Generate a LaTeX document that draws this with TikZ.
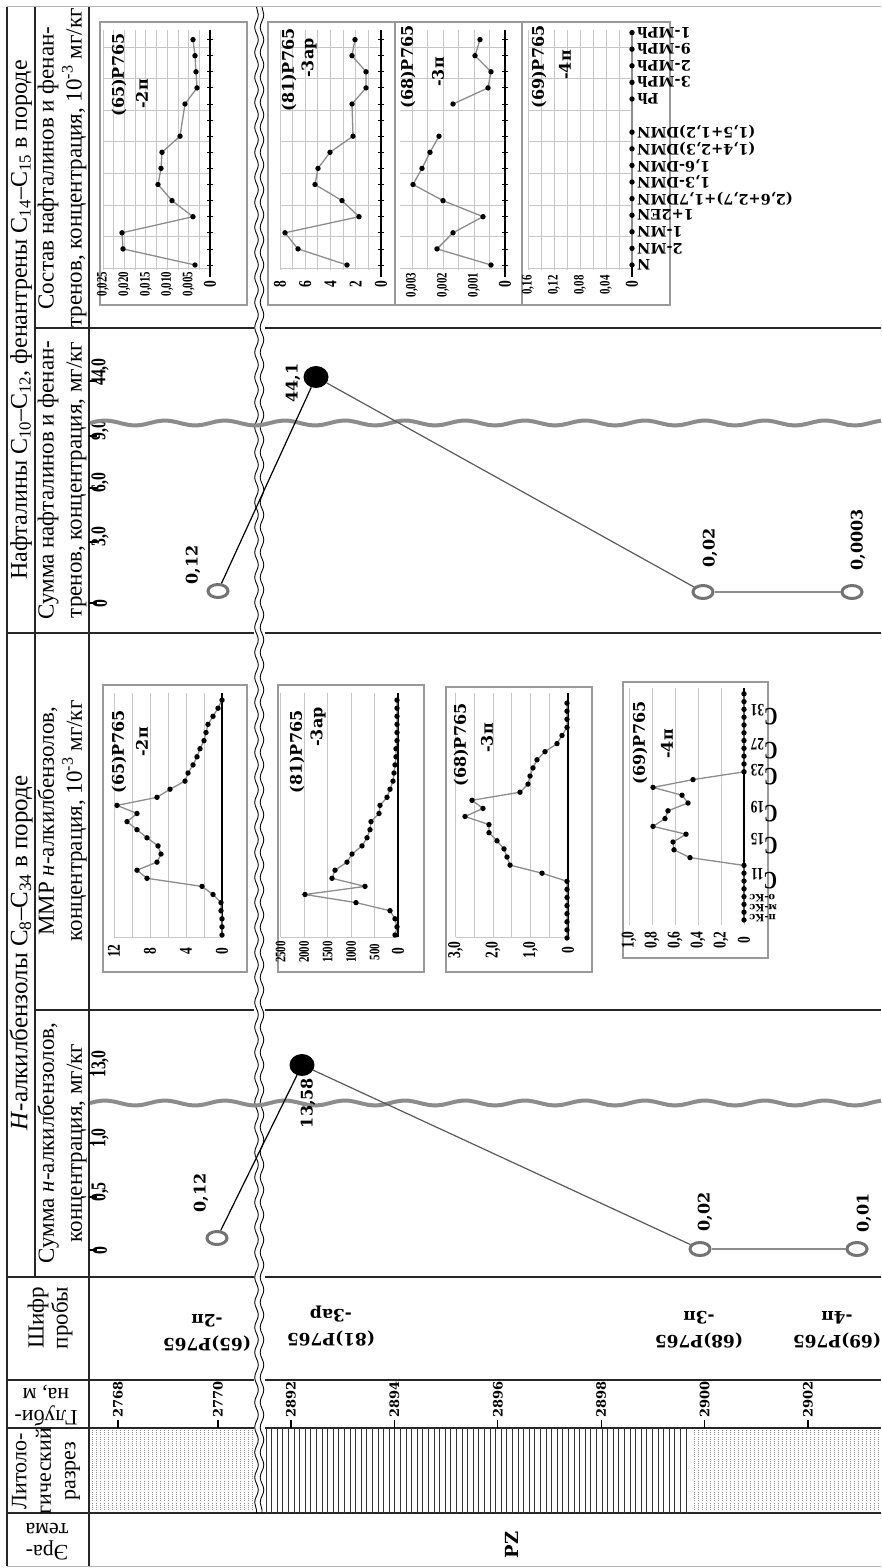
\documentclass[tikz,border=0pt]{standalone}
\usepackage{fontspec}
\setmainfont{Liberation Serif}
\newfontfamily\dv{DejaVu Serif}
\newfontfamily\cnd[FakeStretch=0.75]{Liberation Serif}
\usetikzlibrary{positioning,shapes.geometric,decorations.pathmorphing}

\tikzset{
  rule/.style={line width=1.8pt, black!85},
  hdr/.style={rotate=90, align=center, inner sep=0pt, font=\fontsize{24}{28}\selectfont},
  hdrtwo/.style={hdr, font=\fontsize{23}{28}\selectfont},
  hdrflip/.style={rotate=180, align=center, inner sep=0pt, font=\fontsize{22}{22}\selectfont},
  code/.style={rotate=180, align=center, inner sep=0pt, font=\dv\bfseries\fontsize{17}{24}\selectfont},
  depth/.style={rotate=90, anchor=west, inner sep=0pt, font=\dv\bfseries\fontsize{13}{13}\selectfont},
  tickln/.style={line width=1.2pt},
  openpt/.style={ellipse, draw=black!55, line width=3pt, minimum width=20pt, minimum height=13pt, inner sep=0pt},
  fullpt/.style={ellipse, fill=black, minimum width=25pt, minimum height=22pt, inner sep=0pt},
  sumval/.style={rotate=90, inner sep=0pt, font=\dv\bfseries\fontsize{16}{16}\selectfont},
  axnum/.style={rotate=90, anchor=west, inner sep=0pt, font=\cnd\bfseries\fontsize{21}{21}\selectfont},
  box/.style={draw=black!40, line width=1.5pt},
  gridln/.style={draw=black!22, line width=0.8pt},
  cataxis/.style={line width=1.3pt},
  series/.style={draw=black!45, line width=1.3pt, mark=*, mark size=2pt, mark options={fill=black, draw=black}},
  ttl/.style={rotate=90, inner sep=0pt, font=\dv\bfseries\fontsize{16}{16}\selectfont},
  tiny/.style={rotate=90, inner sep=0pt, font=\cnd\bfseries\fontsize{14.5}{14.5}\selectfont},
  midnum/.style={rotate=90, inner sep=0pt, font=\cnd\bfseries\fontsize{18}{18}\selectfont},
  catlbl/.style={rotate=180, anchor=east, inner sep=0pt, font=\dv\bfseries\fontsize{14.5}{14.5}\selectfont},
  clbl/.style={rotate=180, inner sep=0pt, font=\cnd\bfseries\fontsize{25}{25}\selectfont},
  scalebreak/.style={draw=black!45, line width=4pt},
  breakln/.style={line width=0.9pt, decorate, decoration={snake, amplitude=1.8pt, segment length=25pt}},
}

\begin{document}
\begin{tikzpicture}[x=1pt, y=-1pt]
\useasboundingbox (0,0) rectangle (881,1568);

% table rules
\draw[black!30, line width=1pt] (7,7) -- (881,7);
\draw[black!30, line width=1pt] (7,1566) -- (881,1566);
\draw[rule] (7,7) -- (7,1566);
\draw[rule] (35,7) -- (35,1277);
\draw[rule, line width=2.6pt] (89,7) -- (89,1566);
\draw[rule] (35,328) -- (881,328);
\draw[rule] (7,633) -- (881,633);
\draw[rule] (35,1010) -- (881,1010);
\draw[rule] (7,1277) -- (881,1277);
\draw[rule] (7,1380) -- (881,1380);
\draw[rule] (7,1428) -- (881,1428);
\draw[rule] (7,1513) -- (881,1513);

% headers
\node[hdr] (hNaph) at (21,320) {Нафталины C\textsubscript{10}–C\textsubscript{12}, фенантрены C\textsubscript{14}–C\textsubscript{15} в породе};
\node[hdrtwo] (hNcomp) at (62,168) {Состав нафталинов и фенан-\\тренов, концентрация, 10\textsuperscript{-3} мг/кг};
\node[hdrtwo] (hNsum) at (62,480) {Сумма нафталинов и фенан-\\тренов, концентрация, мг/кг};
\node[hdr, font=\fontsize{25}{28}\selectfont] (hAlk) at (21,953) {\textit{Н}-алкилбензолы C\textsubscript{8}–C\textsubscript{34} в породе};
\node[hdrtwo] (hAmmr) at (62,821) {ММР \textit{н}-алкилбензолов,\\концентрация, 10\textsuperscript{-3} мг/кг};
\node[hdrtwo] (hAsum) at (62,1143) {Сумма \textit{н}-алкилбензолов,\\концентрация, мг/кг};
\node[hdr, font=\fontsize{23}{24}\selectfont] (hCode) at (50,1318) {Шифр\\пробы};
\node[hdrflip] (hDepth) at (46,1406) {Глуби-\\на, м};
\node[hdr, font=\fontsize{22}{24.5}\selectfont] (hLith) at (46,1471) {Литоло-\\гический\\разрез};
\node[hdrflip] (hEra) at (47,1542) {Эра-\\тема};

% sample codes
\node[code] (s65) at (207,1333) {(65)Р765\\-2п};
\node[code] (s81) at (331,1326) {(81)Р765\\-3ар};
\node[code] (s68) at (699,1330) {(68)Р765\\-3п};
\node[code] (s69) at (837,1330) {(69)Р765\\-4п};

% depth scale
\foreach \x/\d in {118/2768, 218/2770, 291/2892, 394.4/2894, 497.8/2896, 601.2/2898, 704.6/2900, 808/2902} {
  \draw[tickln] (\x,1420) -- (\x,1428);
  \node[depth] (d\d) at (\x,1418) {\d};
}

% lithology
\foreach \i in {0,...,41}
  \draw[black!45, line width=0.9pt, dash pattern=on 1pt off 1.2pt] ({92+4*\i},1430) -- ({92+4*\i},1511);
\foreach \i in {0,...,46}
  \draw[black!45, line width=0.9pt, dash pattern=on 1pt off 1.2pt] ({694+4*\i},1430) -- ({694+4*\i},1511);
\foreach \i in {0,...,75}
  \draw[black!80, line width=0.8pt] ({266+5.6*\i},1428) -- ({266+5.6*\i},1513);
\node[font=\dv\bfseries\fontsize{18}{18}\selectfont, rotate=90, inner sep=0pt] (era) at (512,1545) {PZ};

% depth break
\fill[white] (254,8) rectangle (265,1512);
\draw[breakln] (256.5,7) -- (256.5,1513);
\draw[breakln] (262,7) -- (262,1513);

% ---- sum of n-alkylbenzenes
\foreach \y/\t in {1250/0, 1197/{0,5}, 1143/{1,0}, 1073/{13,0}} {
  \draw[tickln] (89,\y) -- (97,\y);
  \node[axnum] at (100,{\y+5}) {\t};
}
\draw[scalebreak, domain=90:881, samples=120] plot (\x, {1103+2.5*sin(6*\x)});
\node[openpt] (a65) at (217,1238) {};
\node[fullpt] (a81) at (302,1065) {};
\node[openpt] (a68) at (700,1249) {};
\node[openpt] (a69) at (857,1249) {};
\draw[line width=1.2pt] (a65) -- (a81);
\draw[line width=1.2pt, black!65] (a81) -- (a68);
\draw[line width=1.6pt, black!45] (a68) -- (a69);
\node[sumval] (v65a) at (201,1193) {0,12};
\node[sumval] (v81a) at (308,1103) {13,58};
\node[sumval] (v68a) at (705,1212) {0,02};
\node[sumval] (v69a) at (864,1213) {0,01};

% ---- sum of naphthalenes and phenanthrenes
\foreach \y/\t in {603/0, 542/{3,0}, 488/{6,0}, 436/{9,0}, 381/{44,0}} {
  \draw[tickln] (89,\y) -- (97,\y);
  \node[axnum] at (100,{\y+5}) {\t};
}
\draw[scalebreak, domain=90:881, samples=120] plot (\x, {423+2.5*sin(6*\x)});
\node[openpt] (b65) at (218,591) {};
\node[fullpt] (b81) at (316,377) {};
\node[openpt] (b68) at (703,592) {};
\node[openpt] (b69) at (852,592) {};
\draw[line width=1.2pt] (b65) -- (b81);
\draw[line width=1.2pt, black!65] (b81) -- (b68);
\draw[line width=1.6pt, black!45] (b68) -- (b69);
\node[sumval] (v65b) at (193,565) {0,12};
\node[sumval] (v81b) at (293,383) {44,1};
\node[sumval] (v68b) at (710,548) {0,02};
\node[sumval] (v69b) at (858,540) {0,0003};

% ---- MMR charts
% (65)P765-2p
\draw[box] (103,685) rectangle (247,972);
\foreach \i in {0,...,6} \draw[gridln] ({114+18*\i},693) -- ({114+18*\i},937);
\draw[gridln] (114,937) -- (222,937);
\draw[cataxis] (222,693) -- (222,937);
\draw[series] plot coordinates {(222,935) (222,926.9) (222,918.8) (221,910.7) (221,902.6) (213,894.5) (202,886.4) (147,878.3) (137,870.2) (157,862.1) (161,854) (158,845.9) (147,837.8) (137,829.7) (127,821.6) (137,813.5) (117,805.4) (157,797.3) (170,789.2) (185,781.1) (188,773) (193,764.9) (197,756.8) (200,748.7) (204,740.6) (206,732.5) (208,724.4) (213,716.3) (218,708.2) (222,700.1)};
\foreach \x/\t in {114/12, 150/8, 186/4, 222/0} \node[midnum] at (\x,951) {\t};
\node[ttl] (m65a) at (119,752) {(65)Р765};
\node[ttl] (m65b) at (142,742) {-2п};

% (81)P765-3ap
\draw[box] (278,685) rectangle (424,972);
\foreach \i in {0,...,5} \draw[gridln] ({280.5+23.5*\i},693) -- ({280.5+23.5*\i},937);
\draw[gridln] (280.5,937) -- (398,937);
\draw[cataxis] (398,693) -- (398,937);
\draw[series] plot coordinates {(395,935) (397,926.9) (395,918.8) (390,910.7) (356,902.6) (305,894.5) (365,886.4) (332,878.3) (335,870.2) (347,862.1) (352,854) (362,845.9) (367,837.8) (370,829.7) (371,821.6) (379,813.5) (380,805.4) (387,797.3) (390,789.2) (393,781.1) (394,773) (395,764.9) (396,756.8) (396,748.7) (397,740.6) (397,732.5) (397,724.4) (397,716.3) (397,708.2) (397,700.1)};
\foreach \x/\t in {280.5/2500, 304/2000, 327.5/1500, 351/1000, 374.5/500} \node[tiny] at (\x,952) {\t};
\node[midnum] at (398,951) {0};
\node[ttl] (m81a) at (297,752) {(81)Р765};
\node[ttl] (m81b) at (318,727) {-3ар};

% (68)P765-3p
\draw[box] (446,687) rectangle (592,972);
\foreach \i in {0,...,6} \draw[gridln] ({455.5+18.75*\i},693) -- ({455.5+18.75*\i},937);
\draw[gridln] (455.5,937) -- (568,937);
\draw[cataxis] (568,693) -- (568,937);
\draw[series] plot coordinates {(567,938) (567,929.9) (567,921.8) (567,913.7) (567,905.6) (567,897.5) (567,889.4) (567,881.3) (542,873.2) (510,865.1) (507,857) (504,848.9) (497,840.8) (489,832.7) (489,824.6) (465,816.5) (483,808.4) (472,800.3) (520,792.2) (528,784.1) (530,776) (533,767.9) (537,759.8) (545,751.7) (557,743.6) (562,735.5) (567,727.4) (567,719.3) (567,711.2) (567,703.1)};
\foreach \x/\t in {455.5/{3,0}, 493/{2,0}, 530.5/{1,0}, 568/0} \node[midnum] at (\x,950) {\t};
\node[ttl] (m68a) at (461,745) {(68)Р765};
\node[ttl] (m68b) at (487,738) {-3п};

% (69)P765-4p
\draw[box] (623,682) rectangle (768,958);
\foreach \i in {0,...,5} \draw[gridln] ({629+23*\i},688) -- ({629+23*\i},925);
\draw[cataxis] (744,688) -- (744,922);
\draw[series] plot coordinates {(744,920) (744,912.2) (744,904.4) (744,896.6) (744,888.8) (744,881) (744,873.2) (744,865.4) (690,857.6) (674,849.8) (673,842) (686,834.2) (653,826.4) (665,818.6) (668,810.8) (688,803) (682,795.2) (653,787.4) (693,779.6) (744,771.8) (744,764) (744,756.2) (744,748.4) (744,740.6) (744,732.8) (744,725) (744,717.2) (744,709.4) (744,701.6) (744,693.8)};
\foreach \x/\t in {629/{1,0}, 652/{0,8}, 675/{0,6}, 698/{0,4}, 721/{0,2}, 744/0} \node[midnum] at (\x,940) {\t};
\foreach \y/\c in {879/11, 844/15, 812/19, 775/23, 749/27, 715/31} \node[clbl] (c\c) at (764,\y) {C\textsubscript{\c}};
\foreach \y/\t in {918/п-Кс, 908/м-Кс, 898/о-Кс} \node[clbl, anchor=east, font=\dv\bfseries\fontsize{10}{10}\selectfont] (x\t) at (749,\y) {\t};
\node[ttl] (m69a) at (640,743) {(69)Р765};
\node[ttl] (m69b) at (667,744) {-4п};

% ---- naphthalene composition charts
% (65)P765-2p
\draw[box] (100,22) rectangle (247,305);
\foreach \i in {0,...,10} \draw[gridln] ({103+10.7*\i},30) -- ({103+10.7*\i},270);
\foreach \j in {0,...,7} \draw[gridln] (103,{47+31.6*\j}) -- (210,{47+31.6*\j});
\draw[cataxis] (210,30) -- (210,277);
\foreach \k in {0,...,14} \draw[line width=0.8pt] (207,{265-16.1*\k}) -- (213,{265-16.1*\k});
\draw[series] plot coordinates {(195,265) (123,248.9) (122,232.8) (193,216.7) (172,200.6) (158,184.5) (161,168.4) (162,152.3) (180,136.2) (185,104) (197,87.9) (196,71.8) (195,55.7) (193,39.6)};
\foreach \x/\t in {103/{0,025}, 124.4/{0,020}, 145.8/{0,015}, 167.2/{0,010}, 188.6/{0,005}} \node[tiny] at (\x,284) {\t};
\node[midnum] at (210,284) {0};
\node[ttl] (n65a) at (119,75) {(65)Р765};
\node[ttl] (n65b) at (142,94) {-2п};

% (81)P765-3ap
\draw[box] (268,22) rectangle (395,305);
\foreach \i in {0,...,8} \draw[gridln] ({280+12.6*\i},30) -- ({280+12.6*\i},270);
\foreach \j in {0,...,7} \draw[gridln] (280,{47+31.6*\j}) -- (381,{47+31.6*\j});
\draw[cataxis] (381,30) -- (381,277);
\foreach \k in {0,...,14} \draw[line width=0.8pt] (378,{265-16.1*\k}) -- (384,{265-16.1*\k});
\draw[series] plot coordinates {(347,265) (298,248.9) (285,232.8) (359,216.7) (342,200.6) (315,184.5) (318,168.4) (330,152.3) (353,136.2) (352,104) (366,87.9) (366,71.8) (352,55.7) (355,39.6)};
\foreach \x/\t in {280/8, 305.2/6, 330.4/4, 355.6/2, 381/0} \node[midnum] at (\x,284) {\t};
\node[ttl] (n81a) at (289,70) {(81)Р765};
\node[ttl] (n81b) at (309,58) {-3ар};

% (68)P765-3p
\draw[box] (395,22) rectangle (522,305);
\foreach \i in {0,...,6} \draw[gridln] ({412+15.5*\i},30) -- ({412+15.5*\i},270);
\foreach \j in {0,...,7} \draw[gridln] (400,{47+31.6*\j}) -- (505,{47+31.6*\j});
\draw[cataxis] (505,30) -- (505,277);
\foreach \k in {0,...,14} \draw[line width=0.8pt] (502,{265-16.1*\k}) -- (508,{265-16.1*\k});
\draw[series] plot coordinates {(491,265) (437,248.9) (453,232.8) (483,216.7) (443,200.6) (413,184.5) (422,168.4) (430,152.3) (439,136.2)};
\draw[series] plot coordinates {(453,104) (488,87.9) (491,71.8) (475,55.7) (480,39.6)};
\foreach \x/\t in {412/{0,003}, 443/{0,002}, 474/{0,001}} \node[tiny] at (\x,285) {\t};
\node[midnum] at (505,284) {0};
\node[ttl] (n68a) at (408,67) {(68)Р765};
\node[ttl] (n68b) at (438,72) {-3п};

% (69)P765-4p
\draw[box] (522,22) rectangle (670,305);
\foreach \i in {0,...,8} \draw[gridln] ({528+13*\i},30) -- ({528+13*\i},270);
\foreach \j in {0,...,7} \draw[gridln] (528,{47+31.6*\j}) -- (632,{47+31.6*\j});
\draw[cataxis] (632,30) -- (632,277);
\draw[series] plot coordinates {(632,265) (632,248.4) (632,231.8) (632,215.2) (632,198.6) (632,182) (632,165.4) (632,148.8) (632,132.2) (632,99) (632,82.4) (632,65.8) (632,49.2) (632,32.6)};
\foreach \x/\t in {528/{0,16}, 554/{0,12}, 580/{0,08}, 606/{0,04}} \node[tiny] at (\x,285) {\t};
\node[midnum] at (632,284) {0};
\node[ttl] (n69a) at (539,67) {(69)Р765};
\node[ttl] (n69b) at (565,65) {-4п};
\foreach \k/\t in {0/N, 1/2-MN, 2/1-MN, 3/1+2EN, 4/(2{,}6+2{,}7)+1{,}7DMN, 5/1{,}3-DMN, 6/1{,}6-DMN, 7/(1{,}4+2{,}3)DMN, 8/(1{,}5+1{,}2)DMN, 10/Ph, 11/3-MPh, 12/2-MPh, 13/9-MPh, 14/1-MPh}
  \node[catlbl] (k\k) at (637,{265-16.6*\k}) {\t};
\end{tikzpicture}
\end{document}
